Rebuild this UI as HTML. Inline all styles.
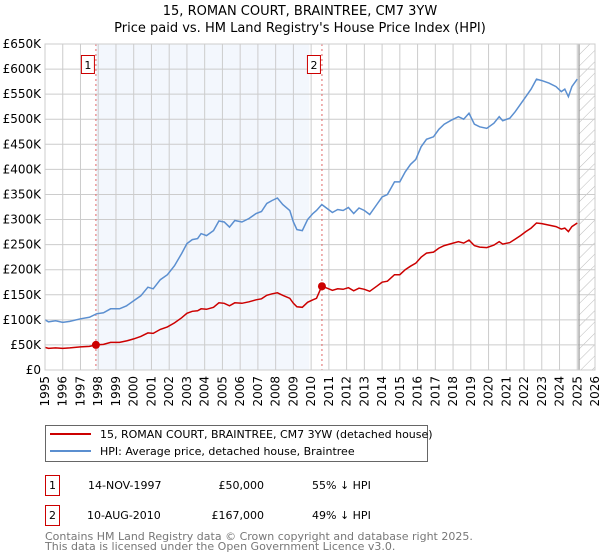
<!DOCTYPE html>
<html><head><meta charset="utf-8"><style>
body{margin:0;background:#fff;font-family:"Liberation Sans","DejaVu Sans",sans-serif;}
svg{display:block}
text{font-family:"DejaVu Sans","Liberation Sans",sans-serif;}
</style></head><body>
<svg id="chart" width="600" height="560" viewBox="0 0 600 560" xmlns="http://www.w3.org/2000/svg">
<defs>
<pattern id="hatch" width="8" height="8" patternUnits="userSpaceOnUse" patternTransform="rotate(45)">
<line x1="0" y1="0" x2="0" y2="8" stroke="#bbb" stroke-width="1"/>
</pattern>
</defs>
<text x="300" y="15" font-size="13" text-anchor="middle">15, ROMAN COURT, BRAINTREE, CM7 3YW</text>
<text x="300" y="32" font-size="13" text-anchor="middle">Price paid vs. HM Land Registry's House Price Index (HPI)</text>
<g id="plot"></g>
<rect x="45.5" y="425.5" width="382" height="36" fill="#fff" stroke="#666"/>
<line x1="50" y1="434" x2="91" y2="434" stroke="#cc0000" stroke-width="2"/>
<text x="100" y="438" font-size="11">15, ROMAN COURT, BRAINTREE, CM7 3YW (detached house)</text>
<line x1="50" y1="451" x2="91" y2="451" stroke="#5b8fd0" stroke-width="2"/>
<text x="100" y="455" font-size="11">HPI: Average price, detached house, Braintree</text>
<g font-size="11">
<rect x="45.5" y="475.5" width="14" height="20" fill="#fff" stroke="#cc0000"/>
<text x="52.5" y="489" text-anchor="middle">1</text>
<text x="88" y="489">14-NOV-1997</text>
<text x="264" y="489" text-anchor="end">£50,000</text>
<text x="312" y="489">55% ↓ HPI</text>
</g>
<g font-size="11">
<rect x="45.5" y="505.5" width="14" height="20" fill="#fff" stroke="#cc0000"/>
<text x="52.5" y="519" text-anchor="middle">2</text>
<text x="87" y="519">10-AUG-2010</text>
<text x="264" y="519" text-anchor="end">£167,000</text>
<text x="312" y="519">49% ↓ HPI</text>
</g>
<text x="45" y="540" font-size="11" fill="#777">Contains HM Land Registry data © Crown copyright and database right 2025.</text>
<text x="45" y="550" font-size="11" fill="#777">This data is licensed under the Open Government Licence v3.0.</text>
</svg>
<script>
const years=[1995.0,1995.2,1995.6,1996.0,1996.4,1997.0,1997.5,1997.9,1998.3,1998.7,1999.2,1999.6,2000.0,2000.4,2000.8,2001.1,2001.5,2001.9,2002.3,2002.7,2003.0,2003.3,2003.6,2003.8,2004.1,2004.5,2004.8,2005.1,2005.4,2005.7,2006.1,2006.5,2006.9,2007.2,2007.5,2007.8,2008.1,2008.4,2008.8,2009.0,2009.2,2009.5,2009.8,2010.1,2010.3,2010.6,2010.9,2011.2,2011.5,2011.8,2012.1,2012.4,2012.7,2013.0,2013.3,2013.7,2014.0,2014.3,2014.7,2015.0,2015.3,2015.6,2015.9,2016.2,2016.5,2016.9,2017.2,2017.5,2017.9,2018.3,2018.6,2018.9,2019.2,2019.5,2019.9,2020.3,2020.6,2020.8,2021.2,2021.5,2021.8,2022.1,2022.4,2022.7,2023.0,2023.4,2023.8,2024.1,2024.3,2024.5,2024.7,2025.0];
const hpiValues=[100,96,98,95,97,102,105,112,114,122,122,128,138,148,165,162,180,190,208,232,252,260,262,272,268,278,297,295,285,298,295,302,312,316,332,338,343,330,318,295,280,278,300,312,318,330,322,314,320,318,324,312,323,318,310,330,345,350,375,375,395,410,420,445,460,465,480,490,498,505,500,512,490,485,482,492,505,497,502,515,530,545,560,580,577,572,565,555,560,545,565,580];
const redValues=[45,43,44,43,44,46,47,50,51,55,55,58,62,67,74,73,81,86,94,104,113,117,118,122,121,125,134,133,128,134,133,136,140,142,149,152,154,149,143,133,126,125,135,140,143,167,163,159,162,161,164,158,163,161,157,167,175,177,190,190,200,207,213,225,233,235,243,248,252,256,253,259,248,245,244,249,256,251,254,261,268,276,283,293,292,289,286,281,283,276,286,293];
const yTicks=[0,50,100,150,200,250,300,350,400,450,500,550,600,650];
const yTickLabels=["£0","£50K","£100K","£150K","£200K","£250K","£300K","£350K","£400K","£450K","£500K","£550K","£600K","£650K"];
const xTicks=[1995,1996,1997,1998,1999,2000,2001,2002,2003,2004,2005,2006,2007,2008,2009,2010,2011,2012,2013,2014,2015,2016,2017,2018,2019,2020,2021,2022,2023,2024,2025,2026];
const saleYears=[1997.87,2010.61];
const salePrices=[50,167];
const saleLabels=["1","2"];

const NS="http://www.w3.org/2000/svg";
const X0=45,X1=595,Y0=370,Y1=44;
const xs=y=>X0+(y-1995)/(2026-1995)*(X1-X0);
const ys=v=>Y0-v/650*(Y0-Y1);
const g=document.getElementById('plot');
function mk(tag,attrs){const e=document.createElementNS(NS,tag);for(const k in attrs)e.setAttribute(k,attrs[k]);g.appendChild(e);return e;}

const shade=mk('rect',{x:xs(saleYears[0]),y:Y1,width:xs(2009.9)-xs(saleYears[0]),height:Y0-Y1,fill:'#eef3fc',opacity:0.7});


const hatch=mk('rect',{x:xs(2025.1),y:Y1,width:X1-xs(2025.1),height:Y0-Y1,fill:'url(#hatch)'});



yTicks.forEach((v,i)=>{
  const l=mk('line',{x1:X0,x2:X1,y1:ys(v),y2:ys(v),stroke:'#ccc','stroke-width':1});
  
  
  const t=mk('text',{x:41,y:ys(v)+4,'font-size':12,'text-anchor':'end'});
  t.textContent=yTickLabels[i];
  
  
});
xTicks.forEach(yr=>{
  const l=mk('line',{x1:xs(yr),x2:xs(yr),y1:Y1,y2:Y0,stroke:'#ccc','stroke-width':1});
  
  
  const t=mk('text',{x:0,y:0,'font-size':12,'text-anchor':'end',transform:`translate(${xs(yr)+4},${376}) rotate(-90)`});
  t.textContent=String(yr);
  
  
});
const vline=mk('line',{x1:xs(2025.1),x2:xs(2025.1),y1:Y1,y2:Y0,stroke:'#999','stroke-width':1.2});



saleYears.forEach((yr,i)=>{
  const l=mk('line',{x1:xs(yr),x2:xs(yr),y1:Y1,y2:Y0,stroke:'#e06666','stroke-width':1,'stroke-dasharray':'2,3'});
  
  
});

function path(vals){return vals.map((v,i)=>(i?'L':'M')+xs(years[i]).toFixed(1)+','+ys(v).toFixed(1)).join('');}
const hp=mk('path',{d:path(hpiValues),fill:'none',stroke:'#5b8fd0','stroke-width':1.5});


const rp=mk('path',{d:path(redValues),fill:'none',stroke:'#cc0000','stroke-width':1.5});



saleYears.forEach((yr,i)=>{
  const c=mk('circle',{cx:xs(yr),cy:ys(salePrices[i]),r:4,fill:'#cc0000'});
  
  
  const b=mk('rect',{x:xs(yr)-14.5,y:55.5,width:13,height:18,fill:'#fff',stroke:'#cc0000'});
  
  
  const t=mk('text',{x:xs(yr)-8,y:69,'font-size':11,'text-anchor':'middle'});
  t.textContent=saleLabels[i];
  
  
});
const frame=mk('rect',{x:X0,y:Y1,width:X1-X0,height:Y0-Y1,fill:'none',stroke:'#ccc'});


</script>
</body></html>
